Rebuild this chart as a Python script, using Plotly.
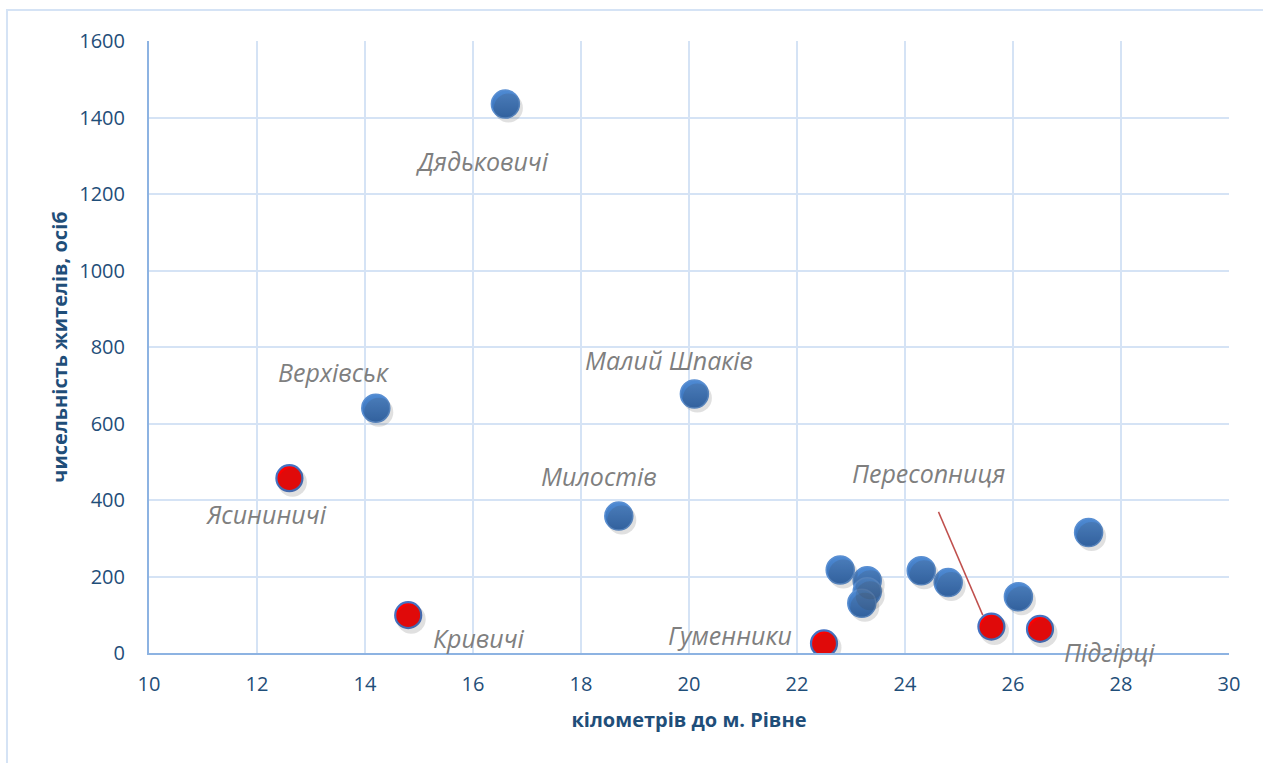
import plotly.graph_objects as go

# Data
blue_km = [16.6, 14.2, 20.1, 18.7, 22.8, 23.3, 23.3, 23.2, 24.3, 24.8, 26.1, 27.4]
blue_pop = [1435, 640, 677, 358, 217, 189, 160, 130, 215, 184, 147, 315]
red_km = [12.6, 14.8, 22.5, 25.6, 26.5]
red_pop = [457, 99, 25, 69, 63]

label_names = ["Дядьковичі", "Верхівськ", "Малий Шпаків", "Милостів", "Ясининичі",
               "Кривичі", "Гуменники", "Пересопниця", "Підгірці"]
label_km = [16.6, 14.2, 20.1, 18.7, 12.6, 14.8, 22.5, 25.6, 26.5]
label_pop = [1435, 640, 677, 358, 457, 99, 25, 69, 63]
# pixel offsets of labels relative to their points
label_dx = [-23, -42, -25, -20, -23, 71, -94, -63, 69]
label_dy = [-57, 36, 34, 40, -36, -23, 8, 154, -23]

x_ticks = [10, 12, 14, 16, 18, 20, 22, 24, 26, 28, 30]
y_ticks = [0, 200, 400, 600, 800, 1000, 1200, 1400, 1600]

FONT = "Open Sans, Noto Sans"

fig = go.Figure()

# shadows
fig.add_trace(go.Scatter(
    x=blue_km + red_km, y=blue_pop + red_pop, mode="markers",
    marker=dict(size=29, color="rgba(60,60,60,0.16)", line=dict(width=0)),
    hoverinfo="skip", showlegend=False, xaxis="x2", yaxis="y2"))

fig.add_trace(go.Scatter(
    x=blue_km, y=blue_pop, mode="markers",
    marker=dict(size=28, color="#4F8BD4",
                gradient=dict(type="vertical", color="#3068B0"),
                line=dict(color="#5A8FD2", width=1.5)),
    showlegend=False))
fig.add_trace(go.Scatter(
    x=red_km, y=red_pop, mode="markers",
    marker=dict(size=26, color="#FF0000", line=dict(color="#4472C4", width=2.2)),
    showlegend=False))

annotations = []
for name, xv, yv, dx, dy in zip(label_names, label_km, label_pop, label_dx, label_dy):
    annotations.append(dict(
        x=xv, y=yv, xref="x", yref="y", text="<i>" + name + "</i>", showarrow=False,
        xshift=dx, yshift=dy, font=dict(family=FONT, size=25, color="#7F7F7F")))

# leader line for Пересопниця
leader_x = [24.62, 25.44]
leader_y = [369, 99]
fig.add_trace(go.Scatter(x=leader_x, y=leader_y, mode="lines",
                         line=dict(color="#C0504D", width=1.5), hoverinfo="skip",
                         showlegend=False))

axis_common = dict(showgrid=True, gridcolor="#D5E3F5", gridwidth=2,
                   zeroline=False, showline=True, linecolor="#8DB3E2", linewidth=2,
                   tickfont=dict(family=FONT, size=20, color="#1F4E79"))

fig.update_layout(
    width=1263, height=763,
    margin=dict(l=149, r=34, t=41, b=110),
    plot_bgcolor="white", paper_bgcolor="white",
    xaxis=dict(range=[10, 30], tickvals=x_ticks, ticklabelstandoff=12,
               title=dict(text="<b>кілометрів до м. Рівне</b>", standoff=17,
                          font=dict(family=FONT, size=20, color="#1F4E79")),
               **axis_common),
    yaxis=dict(range=[0, 1600], tickvals=y_ticks, ticklabelstandoff=18,
               title=dict(text="<b>чисельність жителів, осіб</b>", standoff=6,
                          font=dict(family=FONT, size=20, color="#1F4E79")),
               **axis_common),
    xaxis2=dict(range=[10 - 3 / 54, 30 - 3 / 54], overlaying="x", visible=False),
    yaxis2=dict(range=[0 + 4 / 0.3825, 1600 + 4 / 0.3825], overlaying="y", visible=False),
    annotations=annotations,
    shapes=[dict(type="rect", xref="paper", yref="paper", x0=-0.1315, x1=1.05,
                 y0=-0.25, y1=1.0507, line=dict(color="#D5E3F5", width=2), layer="below")],
)

fig.write_html("out.html", config={"displayModeBar": False},
               post_script="document.body.style.margin='0';")
